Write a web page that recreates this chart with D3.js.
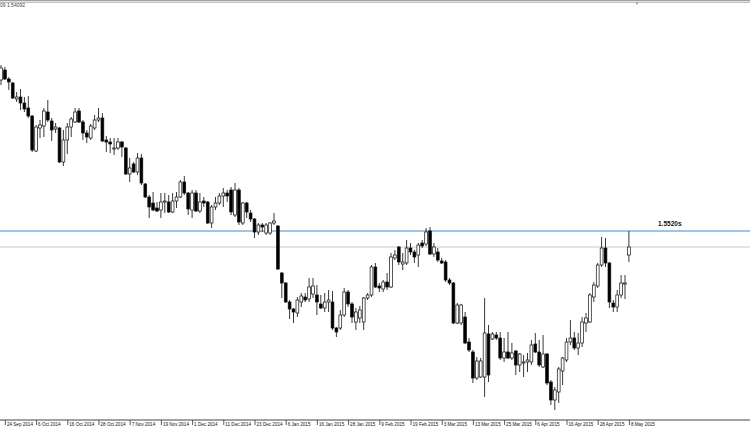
<!DOCTYPE html>
<html><head><meta charset="utf-8">
<script src="https://cdn.jsdelivr.net/npm/d3@7"></script>
<style>html,body{margin:0;padding:0;background:#fff;overflow:hidden}svg{display:block}</style>
</head><body><svg id="c" width="750" height="430"></svg>
<script>
// Daily candles, 22 Sep 2014 .. 8 May 2015 (bar index 0..161)
const labels = ["24 Sep 2014","6 Oct 2014","16 Oct 2014","28 Oct 2014","7 Nov 2014","19 Nov 2014","1 Dec 2014","11 Dec 2014","23 Dec 2014","6 Jan 2015","16 Jan 2015","28 Jan 2015","9 Feb 2015","19 Feb 2015","3 Mar 2015","13 Mar 2015","25 Mar 2015","6 Apr 2015","16 Apr 2015","28 Apr 2015","8 May 2015"];
const labelBarStart = 1, labelBarStep = 8;

const opens = [1.6275,1.6325,1.6280,1.6260,1.6180,1.6190,1.6160,1.6135,1.6095,1.5920,
1.6035,1.6045,1.6115,1.6070,1.6030,1.6035,1.5865,1.5975,1.6040,1.6065,
1.6120,1.6065,1.6010,1.5985,1.6035,1.6075,1.6085,1.5975,1.5965,1.5930,
1.5935,1.5965,1.5935,1.5805,1.5855,1.5815,1.5885,1.5755,1.5690,1.5660,
1.5635,1.5625,1.5665,1.5665,1.5615,1.5670,1.5690,1.5765,1.5710,1.5625,
1.5710,1.5620,1.5670,1.5665,1.5560,1.5640,1.5660,1.5695,1.5710,1.5725,
1.5600,1.5725,1.5560,1.5660,1.5610,1.5580,1.5515,1.5550,1.5510,1.5510,
1.5560,1.5545,1.5310,1.5260,1.5165,1.5130,1.5110,1.5165,1.5190,1.5180,
1.5205,1.5200,1.5155,1.5135,1.5165,1.5165,1.5035,1.5035,1.5100,1.5215,
1.5155,1.5065,1.5085,1.5065,1.5185,1.5200,1.5340,1.5245,1.5230,1.5265,
1.5240,1.5385,1.5440,1.5355,1.5360,1.5435,1.5415,1.5400,1.5460,1.5455,
1.5520,1.5405,1.5415,1.5370,1.5365,1.5275,1.5260,1.5060,1.5060,1.5090,
1.4965,1.4915,1.4785,1.4790,1.4790,1.5005,1.4980,1.5000,1.4985,1.4885,
1.4915,1.4885,1.4920,1.4850,1.4860,1.4865,1.4865,1.4955,1.4915,1.4840,
1.4905,1.4765,1.4675,1.4715,1.4820,1.4875,1.4965,1.4985,1.4935,1.4960,
1.5060,1.5065,1.5190,1.5245,1.5350,1.5435,1.5360,1.5160,1.5140,1.5200,
1.5255,1.5400];
const highs = [1.6350,1.6340,1.6290,1.6265,1.6215,1.6230,1.6190,1.6195,1.6100,1.6050,
1.6075,1.6135,1.6175,1.6085,1.6060,1.6040,1.6025,1.6060,1.6090,1.6135,
1.6135,1.6075,1.6025,1.6055,1.6100,1.6135,1.6110,1.5995,1.5985,1.5985,
1.5985,1.5970,1.5940,1.5885,1.5865,1.5910,1.5905,1.5760,1.5700,1.5715,
1.5665,1.5710,1.5710,1.5700,1.5710,1.5715,1.5775,1.5795,1.5715,1.5725,
1.5725,1.5710,1.5690,1.5670,1.5650,1.5690,1.5710,1.5735,1.5725,1.5740,
1.5760,1.5735,1.5665,1.5665,1.5625,1.5585,1.5560,1.5560,1.5560,1.5565,
1.5610,1.5550,1.5315,1.5265,1.5175,1.5135,1.5190,1.5210,1.5210,1.5285,
1.5285,1.5250,1.5200,1.5210,1.5225,1.5220,1.5040,1.5125,1.5235,1.5225,
1.5165,1.5135,1.5145,1.5190,1.5210,1.5350,1.5360,1.5260,1.5275,1.5310,
1.5410,1.5425,1.5445,1.5410,1.5475,1.5460,1.5425,1.5460,1.5475,1.5535,
1.5540,1.5460,1.5435,1.5385,1.5375,1.5285,1.5265,1.5160,1.5155,1.5115,
1.4985,1.4925,1.4890,1.4885,1.5185,1.5050,1.5015,1.5015,1.5015,1.4985,
1.5015,1.4960,1.4925,1.4910,1.4900,1.4910,1.4975,1.5010,1.4975,1.5000,
1.4910,1.4775,1.4740,1.4840,1.4890,1.4985,1.5075,1.5015,1.5010,1.5090,
1.5110,1.5210,1.5265,1.5360,1.5490,1.5485,1.5365,1.5175,1.5225,1.5300,
1.5300,1.5520];
const lows = [1.6250,1.6275,1.6225,1.6180,1.6165,1.6125,1.6115,1.6085,1.5915,1.5915,
1.5985,1.5990,1.6065,1.5970,1.6010,1.5860,1.5845,1.5905,1.5990,1.6060,
1.6060,1.5975,1.5960,1.5975,1.6025,1.6065,1.5965,1.5915,1.5910,1.5900,
1.5925,1.5890,1.5800,1.5765,1.5810,1.5800,1.5750,1.5685,1.5585,1.5620,
1.5615,1.5585,1.5610,1.5610,1.5610,1.5635,1.5685,1.5700,1.5600,1.5585,
1.5615,1.5610,1.5640,1.5555,1.5535,1.5625,1.5650,1.5640,1.5665,1.5600,
1.5590,1.5550,1.5550,1.5585,1.5565,1.5485,1.5500,1.5515,1.5500,1.5500,
1.5550,1.5325,1.5185,1.5160,1.5080,1.5060,1.5090,1.5140,1.5165,1.5165,
1.5185,1.5100,1.5130,1.5115,1.5115,1.5025,1.4990,1.5025,1.5090,1.5140,
1.5060,1.5025,1.5060,1.5025,1.5175,1.5190,1.5235,1.5215,1.5215,1.5225,
1.5235,1.5375,1.5350,1.5325,1.5350,1.5400,1.5360,1.5340,1.5435,1.5445,
1.5400,1.5390,1.5365,1.5355,1.5265,1.5250,1.5055,1.5055,1.5050,1.4955,
1.4915,1.4760,1.4775,1.4785,1.4690,1.4765,1.4975,1.4975,1.4875,1.4865,
1.4880,1.4875,1.4800,1.4815,1.4790,1.4815,1.4850,1.4910,1.4840,1.4835,
1.4750,1.4650,1.4625,1.4660,1.4750,1.4865,1.4950,1.4925,1.4900,1.4940,
1.5015,1.5060,1.5165,1.5235,1.5340,1.5340,1.5135,1.5115,1.5115,1.5185,
1.5180,1.5365];
const closes = [1.6335,1.6280,1.6265,1.6185,1.6190,1.6160,1.6130,1.6095,1.5925,1.6040,
1.6050,1.6120,1.6075,1.6025,1.6040,1.5865,1.5975,1.6040,1.6080,1.6115,
1.6065,1.6010,1.5990,1.6045,1.6075,1.6085,1.5970,1.5965,1.5955,1.5935,
1.5965,1.5940,1.5805,1.5835,1.5815,1.5885,1.5760,1.5690,1.5640,1.5625,
1.5620,1.5665,1.5670,1.5615,1.5670,1.5690,1.5765,1.5710,1.5630,1.5710,
1.5620,1.5665,1.5660,1.5560,1.5640,1.5660,1.5695,1.5710,1.5695,1.5615,
1.5725,1.5565,1.5660,1.5615,1.5580,1.5515,1.5550,1.5540,1.5550,1.5560,
1.5570,1.5330,1.5260,1.5165,1.5130,1.5115,1.5175,1.5195,1.5175,1.5240,
1.5245,1.5165,1.5135,1.5165,1.5175,1.5035,1.5015,1.5100,1.5215,1.5155,
1.5090,1.5115,1.5125,1.5185,1.5200,1.5340,1.5240,1.5235,1.5265,1.5240,
1.5390,1.5400,1.5365,1.5365,1.5435,1.5415,1.5390,1.5450,1.5445,1.5515,
1.5405,1.5440,1.5375,1.5360,1.5275,1.5260,1.5060,1.5150,1.5150,1.4960,
1.4925,1.4785,1.4870,1.4870,1.5010,1.4800,1.5005,1.4985,1.4885,1.4915,
1.4885,1.4910,1.4850,1.4905,1.4865,1.4875,1.4950,1.4915,1.4850,1.4905,
1.4760,1.4675,1.4725,1.4830,1.4885,1.4965,1.4985,1.4935,1.4960,1.5065,
1.5085,1.5200,1.5250,1.5350,1.5435,1.5360,1.5165,1.5140,1.5200,1.5260,
1.5260,1.5440];

const levelPrice = 1.5520;
const levelLabel = "1.5520s";
const headerText = "09 1.54092";

const W = 750, H = 430;
const svg = d3.select("#c");
const n = opens.length;
const x = d3.scaleLinear().domain([0, n - 1]).range([1, 628.9]);
const y = d3.scaleLinear().domain([1.46, 1.65]).range([415, 35]);
const bodyW = 2.8;

// header lines & text
svg.append("line").attr("x1",0).attr("x2",W).attr("y1",0.7).attr("y2",0.7).attr("stroke","#8a8a8a").attr("stroke-width",1);
svg.append("line").attr("x1",0).attr("x2",W).attr("y1",2.4).attr("y2",2.4).attr("stroke","#a8a8a8").attr("stroke-width",0.8);
svg.append("text").attr("x",0).attr("y",7.4).attr("font-family","Liberation Sans, Arial, sans-serif")
  .attr("font-size",5).attr("fill","#444").text(headerText);
svg.append("path").attr("d","M635.5,2.5 L638.5,2.5 L637,5 Z").attr("fill","#999");

// level line and bid line
svg.append("line").attr("x1",0).attr("x2",W).attr("y1",y(levelPrice)).attr("y2",y(levelPrice))
  .attr("stroke","#3a8dd3").attr("stroke-width",1.2);
svg.append("text").attr("x",658).attr("y",y(levelPrice)-5).attr("font-family","Liberation Sans, Arial, sans-serif")
  .attr("font-size",6.5).attr("font-weight","bold").attr("fill","#111").text(levelLabel);
const last = closes[n - 1];
svg.append("line").attr("x1",0).attr("x2",W).attr("y1",y(last)).attr("y2",y(last))
  .attr("stroke","#c8c8c8").attr("stroke-width",1);

// candles
const idx = d3.range(n);
const g = svg.append("g");
g.selectAll("line.w").data(idx).join("line").attr("class","w")
  .attr("x1", i => x(i)).attr("x2", i => x(i))
  .attr("y1", i => y(highs[i])).attr("y2", i => y(lows[i]))
  .attr("stroke","#222").attr("stroke-width",0.9);
g.selectAll("rect").data(idx).join("rect")
  .attr("x", i => x(i) - bodyW/2).attr("width", bodyW)
  .attr("y", i => y(Math.max(opens[i], closes[i])))
  .attr("height", i => Math.max(0.8, Math.abs(y(opens[i]) - y(closes[i]))))
  .attr("fill", i => closes[i] >= opens[i] ? "#fff" : "#000")
  .attr("stroke", "#111").attr("stroke-width", 0.7);

// time axis
svg.append("line").attr("x1",0).attr("x2",W).attr("y1",420).attr("y2",420).attr("stroke","#444").attr("stroke-width",1);
const tickIdx = labels.map((d, j) => labelBarStart + j * labelBarStep);
const axis = d3.axisBottom(x).tickValues(tickIdx).tickFormat((d, j) => labels[j]).tickSize(5).tickSizeOuter(0);
const ax = svg.append("g").attr("transform","translate(0,420)").call(axis);
ax.select(".domain").remove();
ax.selectAll(".tick line").attr("stroke","#333").attr("stroke-width",0.8);
ax.selectAll(".tick text").attr("text-anchor","start").attr("x",1.5).attr("y",2.3)
  .attr("font-family","Liberation Sans, Arial, sans-serif").attr("font-size",4.6).attr("fill","#111");
</script>
</body></html>
